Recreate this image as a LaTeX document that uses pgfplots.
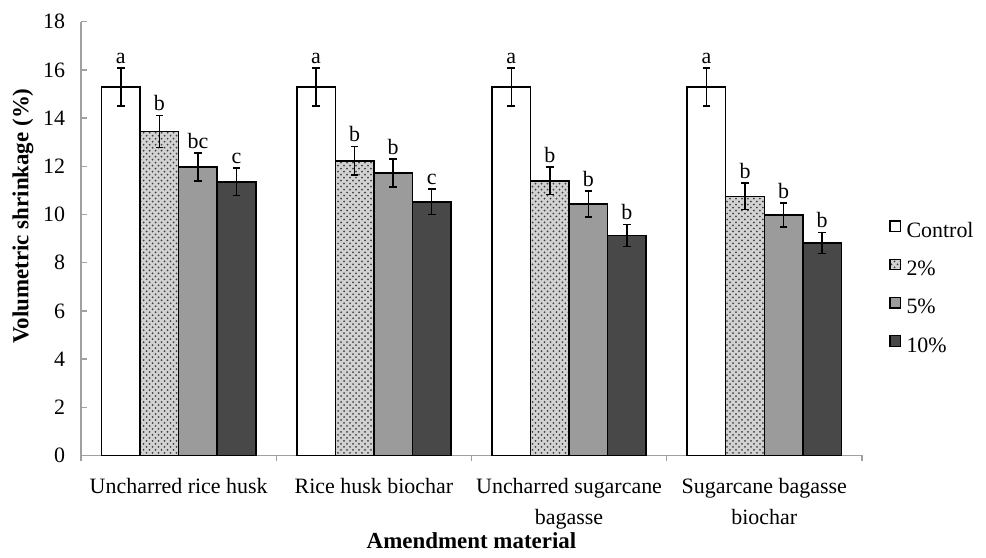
\documentclass[border=0pt]{standalone}
\usepackage{fontspec}
\setmainfont{Liberation Serif}
\usepackage{pgfplots}
\pgfplotsset{compat=1.18}
\usepackage{pgfplotstable}
\usetikzlibrary{patterns}
\definecolor{midgray}{RGB}{155,155,155}
\definecolor{darkgray}{RGB}{72,72,72}
\definecolor{axisgray}{RGB}{160,160,160}
\definecolor{dotbg}{RGB}{210,210,210}

\pgfplotstableread{
x y err top lab
1 15.29 0.78 16.07 a
2 15.29 0.78 16.07 a
3 15.29 0.78 16.07 a
4 15.29 0.78 16.07 a
}\ctrl
\pgfplotstableread{
x y err top lab
1 13.44 0.67 14.11 b
2 12.23 0.59 12.82 b
3 11.40 0.57 11.97 b
4 10.75 0.55 11.30 b
}\two
\pgfplotstableread{
x y err top lab
1 11.97 0.58 12.55 bc
2 11.73 0.58 12.31 b
3 10.44 0.54 10.98 b
4 9.98 0.50 10.48 b
}\five
\pgfplotstableread{
x y err top lab
1 11.35 0.57 11.92 c
2 10.52 0.53 11.05 c
3 9.13 0.46 9.59 b
4 8.82 0.43 9.25 b
}\ten

\begin{document}
\begin{tikzpicture}
\begin{axis}[
  scale only axis, width=390bp, height=216.65bp,
  xmin=0.5, xmax=4.5, ymin=0, ymax=18,
  ybar, bar width=0.1975,
  clip=false,
  axis x line*=bottom, axis y line*=left,
  axis line style={axisgray, line width=0.7bp},
  ytick={0,2,...,18},
  ytick style={axisgray, line width=0.7bp},
  major tick length=3bp,
  /pgf/number format/assume math mode=true,
  yticklabel style={font=\fontsize{11}{13}\selectfont, xshift=-4.5bp},
  xtick={1,2,3,4},
  xticklabels={Uncharred rice husk, Rice husk biochar, {Uncharred sugarcane\\bagasse}, {Sugarcane bagasse\\biochar}},
  xticklabel style={align=center, font=\fontsize{11}{15.5}\selectfont, yshift=-5bp},
  xtick style={draw=none},
  extra x ticks={0.5,1.5,2.5,3.5,4.5},
  extra x tick labels={},
  extra x tick style={xtick style={draw=axisgray, line width=0.7bp}},
  ylabel={Volumetric shrinkage (\%)},
  ylabel style={at={(axis description cs:-0.0744,0.552)}, anchor=center, font=\bfseries\fontsize{11.5}{13}\selectfont},
  xlabel={Amendment material},
  xlabel style={at={(axis description cs:0.5,-0.196)}, anchor=center, font=\bfseries\fontsize{11.5}{13}\selectfont},
  legend image code/.code={\draw[#1, line width=0.6bp] (0bp,0.3bp) rectangle (5.3bp,5.6bp);},
  legend style={draw=none, fill=none, at={(1,0.545)}, anchor=north west, xshift=13.5bp,
    inner sep=0pt, row sep=6.4bp, column sep=1.5bp, font=\fontsize{11}{13}\selectfont,
    nodes={text height=7.8bp, text depth=2.5bp, inner sep=1.2bp, anchor=west}},
  legend cell align=left,
  error bars/error bar style={black, line width=0.75bp},
  error bars/error mark options={black, rotate=90, mark size=1.9bp, line width=0.75bp},
  nodes near coords style={font=\fontsize{11}{13}\selectfont, black, anchor=south, inner sep=2bp},
]
\addplot[bar shift=-0.29625, fill=white, draw=black, line width=0.75bp,
  error bars/.cd, y dir=both, y explicit] table[x=x,y=y,y error=err]{\ctrl};
\addlegendentry{Control}
\addplot[bar shift=-0.09875, fill=dotbg, draw=black, line width=0.75bp,
  postaction={pattern=crosshatch dots, pattern color=black!75},
  error bars/.cd, y dir=both, y explicit] table[x=x,y=y,y error=err]{\two};
\addlegendentry{2\%}
\addplot[bar shift=0.09875, fill=midgray, draw=black, line width=0.75bp,
  error bars/.cd, y dir=both, y explicit] table[x=x,y=y,y error=err]{\five};
\addlegendentry{5\%}
\addplot[bar shift=0.29625, fill=darkgray, draw=black, line width=0.75bp,
  error bars/.cd, y dir=both, y explicit] table[x=x,y=y,y error=err]{\ten};
\addlegendentry{10\%}
\addplot[forget plot, bar shift=-0.29625, draw=none, fill=none, nodes near coords, point meta=explicit symbolic] table[x=x,y=top,meta=lab]{\ctrl};
\addplot[forget plot, bar shift=-0.09875, draw=none, fill=none, nodes near coords, point meta=explicit symbolic] table[x=x,y=top,meta=lab]{\two};
\addplot[forget plot, bar shift=0.09875, draw=none, fill=none, nodes near coords, point meta=explicit symbolic] table[x=x,y=top,meta=lab]{\five};
\addplot[forget plot, bar shift=0.29625, draw=none, fill=none, nodes near coords, point meta=explicit symbolic] table[x=x,y=top,meta=lab]{\ten};
\end{axis}
\path ([xshift=-40.5bp,yshift=-51bp]current axis.south west) rectangle ([xshift=62bp,yshift=10.85bp]current axis.north east);
\end{tikzpicture}
\end{document}
